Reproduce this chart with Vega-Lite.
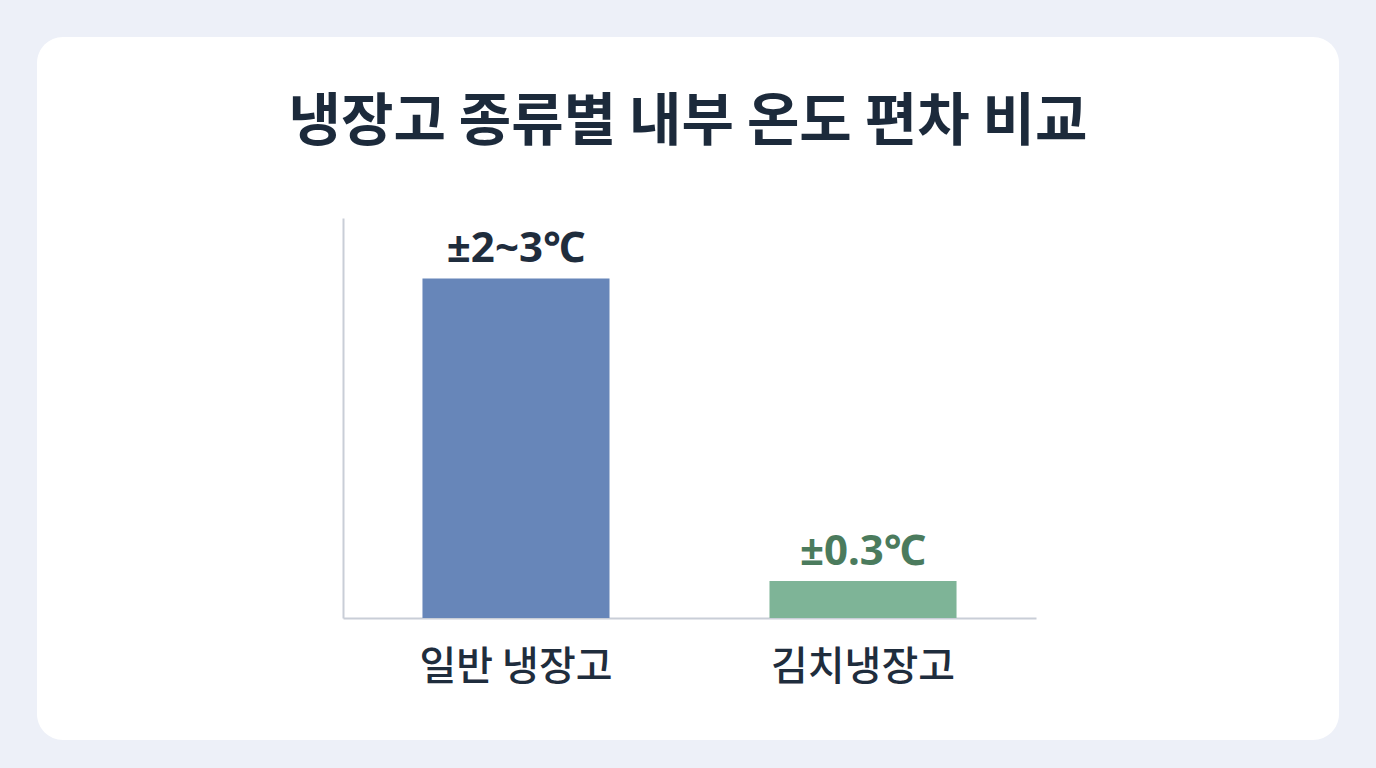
{
  "$schema": "https://vega.github.io/schema/vega-lite/v6.json",
  "description": "냉장고 종류별 내부 온도 편차 비교",
  "width": 1302,
  "height": 703,
  "autosize": "none",
  "padding": {"left": 37, "top": 37, "right": 37, "bottom": 28},
  "background": "#edf0f8",
  "view": {"fill": "white", "stroke": null, "cornerRadius": 26},
  "title": {
    "text": "냉장고 종류별 내부 온도 편차 비교",
    "font": "Noto Sans CJK KR",
    "fontSize": 57,
    "fontWeight": "bold",
    "color": "#1c2a3b",
    "anchor": "middle",
    "baseline": "bottom",
    "offset": -172
  },
  "data": {
    "values": [
      {"type": "일반 냉장고", "dev": 2.75, "label": "±2~3℃"},
      {"type": "김치냉장고", "dev": 0.3, "label": "±0.3℃"}
    ]
  },
  "encoding": {
    "x": {
      "field": "type",
      "type": "nominal",
      "sort": null,
      "scale": {"range": [306, 999], "paddingInner": 0.461, "paddingOuter": 0.229},
      "axis": {
        "title": null,
        "orient": "bottom",
        "offset": -122,
        "ticks": false,
        "labelAngle": 0,
        "labelFont": "Noto Sans CJK KR",
        "labelFontSize": 40,
        "labelFontWeight": 500,
        "labelColor": "#1f2d3d",
        "labelPadding": 29,
        "labelLimit": 400,
        "domainColor": "#c9ced7",
        "domainWidth": 2
      }
    },
    "y": {
      "field": "dev",
      "type": "quantitative",
      "scale": {"domain": [0, 3.24], "range": [581, 181], "nice": false},
      "axis": {
        "title": null,
        "orient": "left",
        "offset": -306,
        "ticks": false,
        "labels": false,
        "grid": false,
        "domainColor": "#c9ced7",
        "domainWidth": 2
      }
    }
  },
  "layer": [
    {
      "mark": {"type": "bar"},
      "encoding": {
        "color": {
          "field": "type",
          "type": "nominal",
          "scale": {"domain": ["일반 냉장고", "김치냉장고"], "range": ["#6786b9", "#7eb497"]},
          "legend": null
        }
      }
    },
    {
      "mark": {
        "type": "text",
        "baseline": "alphabetic",
        "dy": -16,
        "font": "Noto Sans, Noto Sans CJK KR",
        "fontSize": 42,
        "fontWeight": "bold"
      },
      "encoding": {
        "text": {"field": "label"},
        "color": {
          "field": "type",
          "type": "nominal",
          "scale": {"domain": ["일반 냉장고", "김치냉장고"], "range": ["#1f2d3d", "#4b7b5d"]},
          "legend": null
        }
      }
    }
  ],
  "resolve": {"scale": {"color": "independent"}}
}
